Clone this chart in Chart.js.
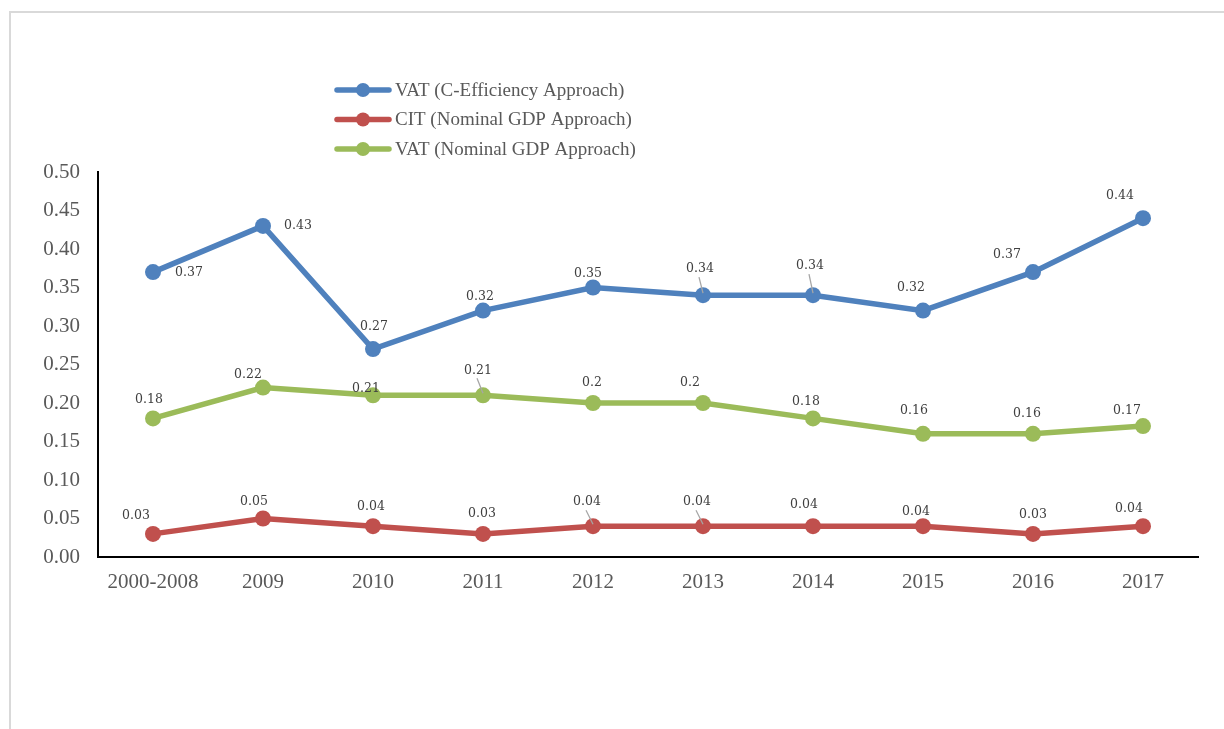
<!DOCTYPE html>
<html>
<head>
<meta charset="utf-8">
<title>Tax efficiency</title>
<script src="https://cdn.jsdelivr.net/npm/chart.js@4/dist/chart.umd.min.js"></script>
<style>
  html, body { margin: 0; padding: 0; background: #ffffff; overflow: hidden; }
  #frame { position: absolute; left: 9px; top: 11px; width: 1240px; height: 760px; border: 2px solid #d9d9d9; box-sizing: border-box; }
  #wrap { position: absolute; left: 0; top: 0; width: 1224px; height: 729px; }
</style>
</head>
<body>
<div id="frame"></div>
<div id="wrap"><canvas id="chart" width="1224" height="729"></canvas></div>
<script>
// Categories and series values
const categories = ['2000-2008', '2009', '2010', '2011', '2012', '2013', '2014', '2015', '2016', '2017'];
const vatCEfficiency = [0.37, 0.43, 0.27, 0.32, 0.35, 0.34, 0.34, 0.32, 0.37, 0.44];
const citNominalGdp = [0.03, 0.05, 0.04, 0.03, 0.04, 0.04, 0.04, 0.04, 0.03, 0.04];
const vatNominalGdp = [0.18, 0.22, 0.21, 0.21, 0.2, 0.2, 0.18, 0.16, 0.16, 0.17];
const seriesNames = ['VAT (C-Efficiency Approach)', 'CIT (Nominal GDP Approach)', 'VAT (Nominal GDP Approach)'];

// Placement of value labels relative to each point: [dx, dy, leaderLine]
const labelPlacement = [
  [[36, 1], [35, 0], [1, -22], [-3, -14], [-5, -14], [-3, -26, 1], [-3, -29, 1], [-12, -23], [-26, -17], [-23, -22]],
  [[-17, -18], [-9, -17], [-2, -19], [-1, -20], [-6, -24, 1], [-6, -24, 1], [-9, -21], [-7, -14], [0, -19], [-14, -17]],
  [[-4, -19], [-15, -13], [-7, -7], [-5, -25, 1], [-1, -20], [-13, -20], [-7, -17], [-9, -23], [-6, -20], [-16, -15]]
];

const colors = ['#4f81bd', '#c0504d', '#9bbb59'];
const serif = '"Liberation Serif", "Times New Roman", serif';

const valueLabels = {
  id: 'valueLabels',
  afterDatasetsDraw(chart) {
    const ctx = chart.ctx;
    ctx.save();
    ctx.font = '12.5px "DejaVu Serif", serif';
    ctx.textAlign = 'center';
    ctx.textBaseline = 'middle';
    chart.data.datasets.forEach((ds, di) => {
      const meta = chart.getDatasetMeta(di);
      meta.data.forEach((pt, i) => {
        const p = labelPlacement[di][i];
        const lx = pt.x + p[0];
        const ly = pt.y + p[1];
        if (p[2]) {
          ctx.strokeStyle = '#a6a6a6';
          ctx.lineWidth = 1.3;
          ctx.beginPath();
          ctx.moveTo(lx - 1, ly + 8);
          ctx.lineTo(pt.x, pt.y - 2);
          ctx.stroke();
        }
        ctx.fillStyle = '#404040';
        ctx.fillText(String(ds.data[i]), lx, ly);
      });
    });
    ctx.restore();
  }
};

const lineLegend = {
  id: 'lineLegend',
  afterDraw(chart) {
    const ctx = chart.ctx;
    ctx.save();
    ctx.font = '19px ' + serif;
    ctx.textBaseline = 'middle';
    ctx.textAlign = 'left';
    chart.data.datasets.forEach((ds, i) => {
      const y = 90 + i * 29.5;
      ctx.strokeStyle = ds.borderColor;
      ctx.lineWidth = 5.5;
      ctx.lineCap = 'round';
      ctx.beginPath();
      ctx.moveTo(337, y);
      ctx.lineTo(389, y);
      ctx.stroke();
      ctx.fillStyle = ds.borderColor;
      ctx.beginPath();
      ctx.arc(363, y, 7, 0, Math.PI * 2);
      ctx.fill();
      ctx.fillStyle = '#595959';
      ctx.fillText(ds.label, 395, y + 1);
    });
    ctx.restore();
  }
};

function makeDataset(label, data, color) {
  return {
    label: label,
    data: data,
    borderColor: color,
    backgroundColor: color,
    borderWidth: 5.5,
    pointRadius: 8,
    pointHoverRadius: 8,
    pointBorderWidth: 0,
    pointBackgroundColor: color,
    tension: 0,
    fill: false
  };
}

new Chart(document.getElementById('chart'), {
  type: 'line',
  data: {
    labels: categories,
    datasets: [
      makeDataset(seriesNames[0], vatCEfficiency, colors[0]),
      makeDataset(seriesNames[1], citNominalGdp, colors[1]),
      makeDataset(seriesNames[2], vatNominalGdp, colors[2])
    ]
  },
  options: {
    responsive: false,
    animation: false,
    layout: { padding: { left: 0, right: 26, top: 172, bottom: 0 } },
    plugins: { legend: { display: false }, tooltip: { enabled: false } },
    scales: {
      x: {
        offset: true,
        grid: { display: false, drawTicks: false },
        border: { display: true, color: '#000000', width: 2 },
        ticks: { color: '#595959', font: { family: serif, size: 21 }, padding: 13, maxRotation: 0 },
        afterFit(scale) { scale.height = 172; }
      },
      y: {
        min: 0,
        max: 0.5,
        grid: { display: false, drawTicks: false },
        border: { display: true, color: '#000000', width: 2 },
        ticks: {
          stepSize: 0.05,
          color: '#595959',
          font: { family: serif, size: 21 },
          padding: 18,
          callback: (v) => Number(v).toFixed(2)
        },
        afterFit(scale) { scale.width = 98; }
      }
    }
  },
  plugins: [valueLabels, lineLegend]
});
</script>
</body>
</html>
